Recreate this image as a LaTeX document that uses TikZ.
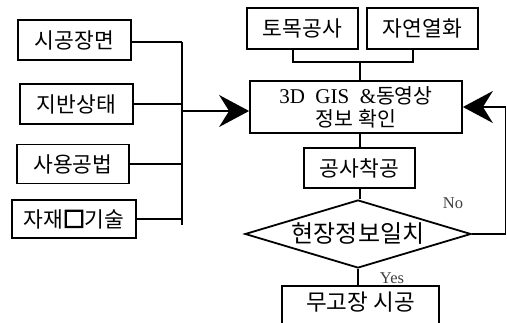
\documentclass[tikz,border=0pt]{standalone}
\usepackage{fontspec}
\setmainfont{Liberation Serif}
\newfontfamily\kr{Noto Sans CJK KR}
\newfontfamily\krb[FakeBold=7]{Noto Sans CJK KR}
\usetikzlibrary{arrows.meta,shapes.geometric}
\begin{document}
\begin{tikzpicture}[x=1pt,y=-1pt,
  box/.style={draw, line width=1.8pt, inner sep=0pt, font=\kr\fontsize{21.5}{24}\selectfont},
  link/.style={line width=1.4pt},
  bigarrow/.style={link, -{Stealth[length=30pt,width=32pt,inset=10pt]}},
  lbl/.style={inner sep=0pt, text=black!75, font=\fontsize{16.5}{18}\selectfont}]
\useasboundingbox (0,0) rectangle (507,323);
\clip (0,0) rectangle (507,323);
% left boxes
\node[box, minimum width=113, minimum height=40] (a) at (74.5,40) {시공장면};
\node[box, minimum width=113, minimum height=40] (b) at (76.5,104) {지반상태};
\node[box, minimum width=112, minimum height=39] (c) at (73,164) {사용공법};
\node[box, minimum width=124, minimum height=38] (d) at (74,219) {자재{\krb □}기술};
% bus
\coordinate (bt) at (182,42);
\coordinate (bb) at (182,225);
\coordinate (bm) at (182,111);
\draw[link] (bt) -- (bb);
\draw[link] (a.east |- bt) -- (bt);
\draw[link] (b.east) -- (b.east -| bt);
\draw[link] (c.east) -- (c.east -| bt);
\draw[link] (d.east) -- (d.east -| bt);
% top boxes
\node[box, minimum width=111, minimum height=41] (t1) at (302.5,28.5) {토목공사};
\node[box, minimum width=111, minimum height=41] (t2) at (422.5,28.5) {자연열화};
% main box
\node[box, minimum width=212, minimum height=52, align=center,
  font=\kr\fontsize{20.5}{23}\selectfont] (gis) at (356,107)
  {{\rmfamily\fontsize{21}{23}\selectfont 3D\ \ GIS\ \ \&}동영상\\정보 확인};
\coordinate (tj) at (360,62);
\draw[link] ([xshift=-9.5]t1.south) |- (tj) -| ([xshift=-9.5]t2.south);
\draw[link] (tj) -- (tj |- gis.north);
\draw[bigarrow] (bm) -- (gis.west |- bm);
% work
\node[box, minimum width=111, minimum height=40] (w) at (359.5,168) {공사착공};
\draw[link] (gis.south -| 360,0) -- (w.north -| 360,0);
% decision
\node[box, diamond, shape aspect=3.3, minimum width=226, minimum height=68,
  font=\kr\fontsize{24}{26}\selectfont] (dec) at (358,234) {현장정보일치};
\draw[link] (w.south -| 360,0) -- (dec.north -| 360,0);
\draw[bigarrow] (dec.east) -- (505.5,234) |- (gis.east);
\node[lbl] (no) at (453,203) {No};
% end
\node[box, anchor=north, minimum width=157, text height=19, text depth=30, inner ysep=6,
  font=\kr\fontsize{22.5}{25}\selectfont] (e) at (360.5,285) {무고장 시공};
\draw[link] (dec.south) -- (e.north -| dec.south);
\node[lbl] (yes) at (392,278) {Yes};
\end{tikzpicture}
\end{document}
